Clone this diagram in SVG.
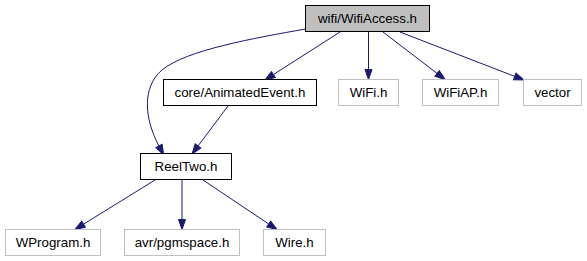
<svg xmlns="http://www.w3.org/2000/svg" width="587" height="261" viewBox="0 0 587 261">
  <style>
    .bg { fill: #ffffff; }
    .node rect { fill: #ffffff; stroke: #bfbfbf; stroke-width: 1; }
    .node.solid rect { stroke: #000000; }
    .node.root rect { fill: #bfbfbf; stroke: #000000; }
    .node text { font-family: "Liberation Sans", Arial, Helvetica, sans-serif; font-size: 13.3px; fill: #000000; text-anchor: middle; }
    .edges path { fill: none; stroke: #191970; stroke-width: 1; marker-end: url(#arrow); }
  </style>
  <defs>
    <marker id="arrow" markerUnits="userSpaceOnUse" markerWidth="12" markerHeight="10" viewBox="-1 -5 12 10" refX="0" refY="0" orient="auto">
      <path d="M0,-3.5 L10,0 L0,3.5 Z" fill="#191970" stroke="#191970" stroke-width="1"/>
    </marker>
  </defs>
  <rect class="bg" x="0" y="0" width="587" height="261"/>

  <g id="edges" class="edges">
    <path d="M305.5,29 C255,38 186,50 162,70 C142,87 144,118 159,146"/>
    <path d="M340,32 L273.4,74.6"/>
    <path d="M368.5,32 L368.5,69.5"/>
    <path d="M383,32 L437.1,73.4"/>
    <path d="M400,32 L514.7,76.4"/>
    <path d="M228,106 L198,146"/>
    <path d="M155,180 L83.5,224.2"/>
    <path d="M182,180 L182,219.5"/>
    <path d="M203,180 L268.7,224"/>
  </g>

  <g id="node-wifiaccess" class="node root">
    <rect x="305.5" y="5.5" width="124" height="26"/>
    <text x="367.5" y="23">wifi/WifiAccess.h</text>
  </g>
  <g id="node-animatedevent" class="node solid">
    <rect x="163.5" y="79.5" width="153" height="26"/>
    <text x="240" y="97">core/AnimatedEvent.h</text>
  </g>
  <g id="node-wifi" class="node">
    <rect x="338.5" y="79.5" width="60" height="26"/>
    <text x="368.5" y="97">WiFi.h</text>
  </g>
  <g id="node-wifiap" class="node">
    <rect x="422.5" y="79.5" width="76" height="26"/>
    <text x="460.5" y="97">WiFiAP.h</text>
  </g>
  <g id="node-vector" class="node">
    <rect x="523.5" y="79.5" width="58" height="26"/>
    <text x="552.5" y="97">vector</text>
  </g>
  <g id="node-reeltwo" class="node solid">
    <rect x="140.5" y="153.5" width="91" height="26"/>
    <text x="186" y="171">ReelTwo.h</text>
  </g>
  <g id="node-wprogram" class="node">
    <rect x="5.5" y="229.5" width="95" height="26"/>
    <text x="53" y="247">WProgram.h</text>
  </g>
  <g id="node-pgmspace" class="node">
    <rect x="124.5" y="229.5" width="115" height="26"/>
    <text x="182" y="247">avr/pgmspace.h</text>
  </g>
  <g id="node-wire" class="node">
    <rect x="263.5" y="229.5" width="62" height="26"/>
    <text x="294.5" y="247">Wire.h</text>
  </g>
</svg>
